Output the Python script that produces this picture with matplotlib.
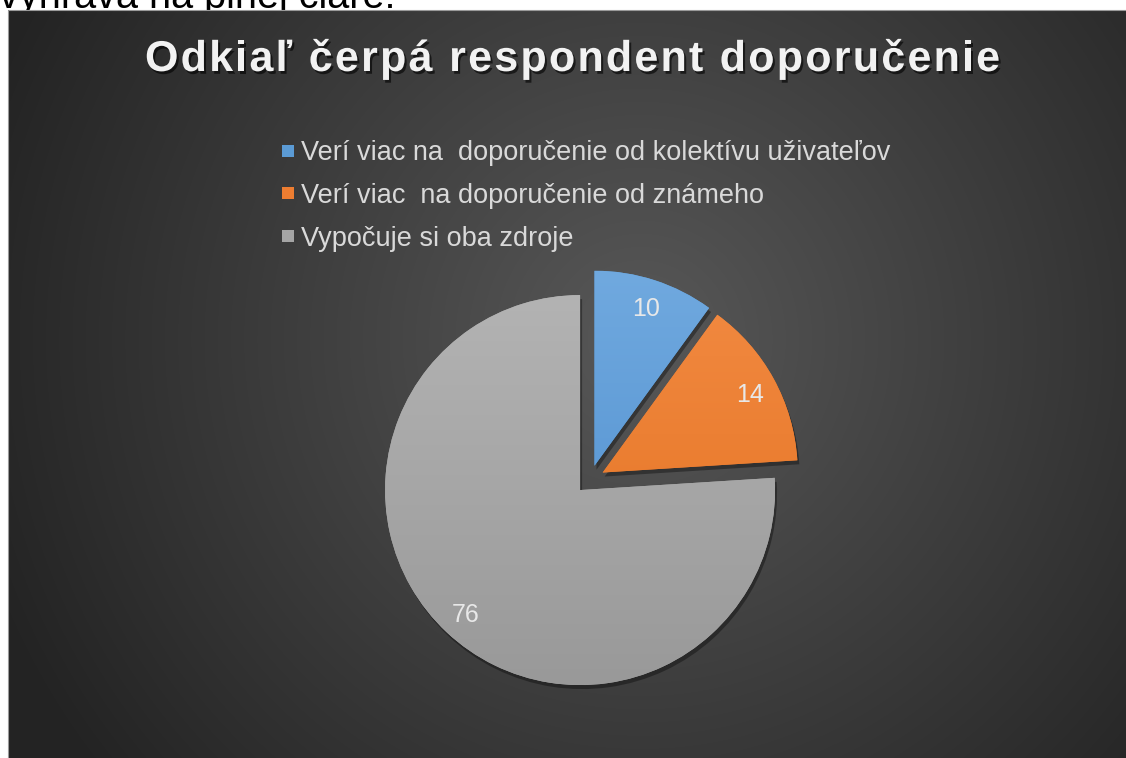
import numpy as np
import matplotlib
import matplotlib.pyplot as plt
from matplotlib.patches import Wedge, Rectangle
from matplotlib.lines import Line2D
from matplotlib.font_manager import FontProperties
import matplotlib.patheffects as pe

W, H = 1126, 758
my_dpi = 100

# data
labels = ['Verí viac na  doporučenie od kolektívu uživateľov',
          'Verí viac  na doporučenie od známeho',
          'Vypočuje si oba zdroje']
values = [10, 14, 76]
title = 'Odkiaľ čerpá respondent doporučenie'
top_text = 'vyhráva na plnej čiare.'

colors = ['#5b9bd5', '#ed7d31', '#a5a5a5']
colors_top = ['#70a9df', '#f28a42', '#b3b3b3']
colors_bot = ['#4d8dcd', '#e3711f', '#999999']

plt.rcParams['font.family'] = ['Liberation Sans', 'DejaVu Sans']

fig = plt.figure(figsize=(W/my_dpi, H/my_dpi), dpi=my_dpi)
fig.patch.set_facecolor('white')
ax = fig.add_axes([0, 0, 1, 1])

# text of the page above the chart, cut off by the chart
ax.text(-1, H-8, top_text, fontsize=28.5, color='black', va='baseline', ha='left', zorder=0.1, clip_on=False)

# dark panel with radial gradient
left, top = 8, 10
yy, xx = np.mgrid[0:H-top, left:W]
gx, gy = 640, H-340
d = np.sqrt((xx-gx)**2 + (yy-gy)**2) / 700.0
d = np.clip(d, 0, 1)
c0 = np.array([0x58, 0x58, 0x58]) / 255.0
c1 = np.array([0x23, 0x23, 0x23]) / 255.0
img = c0[None, None, :]*(1-d[..., None]) + c1[None, None, :]*d[..., None]
ax.imshow(img, extent=(left, W, 0, H-top), origin='lower', zorder=0.5, interpolation='bilinear')
ax.add_patch(Rectangle((left, -2), W-left+2, H-top+2, facecolor='none', edgecolor='#9a9a9a', linewidth=0.8, zorder=0.6))

# pie (explode is in data units = pixels here)
cx, cy, r = 590, H-479.5, 195
wedges, texts, autotexts = ax.pie(values, explode=[14.5]*3, colors=colors, startangle=90, counterclock=False,
                                  radius=r, center=(cx, cy), frame=True,
                                  autopct=lambda p: '%.0f' % (p*sum(values)/100.0), pctdistance=0.86,
                                  textprops=dict(color='#e8e8e8', fontsize=18),
                                  wedgeprops=dict(linewidth=0))

for i, w in enumerate(wedges):
    wx, wy = w.center
    w.set_zorder(2)
    sh = Wedge((wx+2, wy-4), r, w.theta1, w.theta2, facecolor='black', alpha=0.35, linewidth=0, zorder=1.5)
    ax.add_patch(sh)
    grad = np.linspace(0, 1, 256)[:, None, None]
    ct = np.array(matplotlib.colors.to_rgb(colors_top[i]))
    cb = np.array(matplotlib.colors.to_rgb(colors_bot[i]))
    gimg = cb[None, None, :]*(1-grad) + ct[None, None, :]*grad
    gimg = np.repeat(gimg, 2, axis=1)
    im = ax.imshow(gimg, extent=(wx-r, wx+r, wy-r, wy+r), origin='lower', zorder=2.5, interpolation='bilinear')
    im.set_clip_path(w)

for t in autotexts:
    t.set_zorder(4)
    t.set_y(t.get_position()[1] - 3)

ax.set_xlim(0, W)
ax.set_ylim(0, H)
ax.set_aspect('auto')
ax.axis('off')

# title, letter spaced to fill 145..1000 px
fp = FontProperties(family='Liberation Sans', weight='bold', size=31)
renderer = fig.canvas.get_renderer()
def tw(s):
    return renderer.get_text_width_height_descent(s, fp, ismath=False)[0]
x0, x1 = 145, 1000
natural = tw(title)
spacing = (x1 - x0 - natural) / (len(title) - 1)
for i, ch in enumerate(title):
    if ch == ' ':
        continue
    xpos = x0 + tw(title[:i] + 'l') - tw('l') + i*spacing
    ax.text(xpos, H-71, ch, fontproperties=fp, color='#f2f2f2', ha='left', va='baseline', zorder=5,
            path_effects=[pe.withSimplePatchShadow(offset=(1.5, -2), shadow_rgbFace='black', alpha=0.6)])

# legend
handles = [Line2D([], [], linestyle='none', marker='s', markersize=9, markerfacecolor=c, markeredgewidth=0) for c in colors]
leg = ax.legend(handles, labels, loc='upper left', bbox_to_anchor=(281/W, 1-140/H), bbox_transform=fig.transFigure,
                frameon=False, fontsize=19.5, labelcolor='#d9d9d9', handlelength=0.5, handletextpad=0.25,
                labelspacing=0.62, borderpad=0, borderaxespad=0)
leg.set_zorder(5)

plt.savefig('out.png', dpi=my_dpi, facecolor='white')
